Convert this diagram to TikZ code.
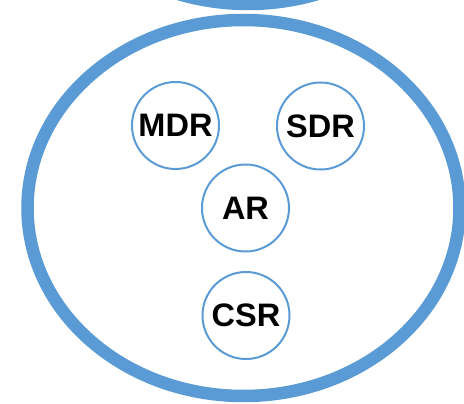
\documentclass[tikz,border=0pt]{standalone}
\usepackage{fontspec}
\setmainfont{Liberation Sans}
\begin{document}
\begin{tikzpicture}[x=1pt,y=-1pt,
  ring/.style={draw=ringblue,line width=12.5pt},
  role/.style={circle,draw=ringblue,line width=2pt,minimum size=87pt,inner sep=0pt,
    font=\fontsize{32.5}{32.5}\selectfont\bfseries}]
\definecolor{ringblue}{HTML}{5B9BD5}
\useasboundingbox (0,0) rectangle (464,404);
\clip (0,0) rectangle (464,404);
% upper ring, mostly outside the frame
\draw[ring] (248,-184) ellipse [x radius=216, y radius=188];
% main ring
\draw[ring] (243.5,208) ellipse [x radius=216, y radius=188];
% roles inside the main ring
\node[role] (mdr) at (175.5,125.5) {MDR};
\node[role] (sdr) at (320.5,126) {SDR};
\node[role] (ar) at (245.5,208) {AR};
\node[role] (csr) at (246,315.5) {CSR};
\end{tikzpicture}
\end{document}
